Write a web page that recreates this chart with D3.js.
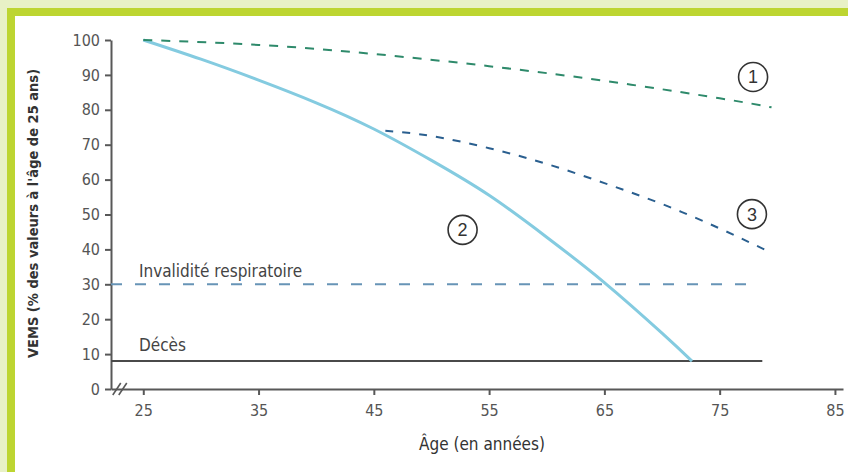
<!DOCTYPE html>
<html>
<head>
<meta charset="utf-8">
<script src="https://cdn.jsdelivr.net/npm/d3@7"></script>
<style>
  html, body { margin: 0; padding: 0; background: #e8f1c6; }
  svg { display: block; }
  text { font-family: "Liberation Sans Narrow", "DejaVu Sans Condensed", "Liberation Sans", sans-serif; }
</style>
</head>
<body>
<svg id="chart" width="848" height="472"></svg>
<script>
// Courbe 1 : non-fumeur
const ages1 = [25, 35, 45, 55, 65, 75, 79.5];
const vems1 = [100, 98.6, 96, 92.5, 88.3, 83.3, 80.7];
// Courbe 2 : fumeur sensible
const ages2 = [25, 30, 35, 40, 45, 50, 55, 60, 65, 70, 72.6];
const vems2 = [100, 94.5, 88.5, 82, 74.5, 65.5, 55.5, 43.5, 30.5, 16, 8];
// Courbe 3 : arrêt du tabac à 46 ans
const ages3 = [46, 50, 55, 60, 65, 70, 75, 79.5];
const vems3 = [74, 72.5, 69, 64.5, 59, 53, 46, 39];

const xTicks = [25, 35, 45, 55, 65, 75, 85];
const yTicks = [0, 10, 20, 30, 40, 50, 60, 70, 80, 90, 100];

// Seuils horizontaux
const seuils = [
  { nom: "Invalidité respiratoire", vems: 30, fin: 78.3 },
  { nom: "Décès", vems: 8, fin: 78.7 }
];
// Repères numérotés
const reperes = [
  { num: "1", age: 77.9, vems: 89.4 },
  { num: "2", age: 52.7, vems: 45.6 },
  { num: "3", age: 77.8, vems: 50.1 }
];

const svg = d3.select("#chart");

// Cadre
svg.append("rect").attr("x", 0).attr("y", 0).attr("width", 848).attr("height", 472).attr("fill", "#e8f1c6");
svg.append("rect").attr("x", 7).attr("y", 8).attr("width", 860).attr("height", 480).attr("fill", "#bdd531");
svg.append("rect").attr("x", 15).attr("y", 16).attr("width", 860).attr("height", 480).attr("fill", "#fff");

const margin = { left: 111, top: 40 };
const x = d3.scaleLinear().domain([22.2, 85.7]).range([margin.left, 843]);
const y = d3.scaleLinear().domain([0, 100]).range([389, margin.top]);

const axisColor = "#585858";

// Axe X
const gx = svg.append("g")
  .attr("transform", `translate(0,${y(0)})`)
  .call(d3.axisBottom(x).tickValues(xTicks).tickSizeInner(6).tickSizeOuter(0).tickPadding(10));
gx.select(".domain").attr("stroke", axisColor).attr("stroke-width", 2);
gx.selectAll(".tick line").attr("stroke", axisColor).attr("stroke-width", 2);
gx.selectAll(".tick text").attr("fill", "#555").style("font-size", "16px");

// Axe Y
const gy = svg.append("g")
  .attr("transform", `translate(${margin.left},0)`)
  .call(d3.axisLeft(y).tickValues(yTicks).tickSizeInner(6).tickSizeOuter(0).tickPadding(5));
gy.select(".domain").attr("stroke", axisColor).attr("stroke-width", 2);
gy.selectAll(".tick line").attr("stroke", axisColor).attr("stroke-width", 2);
gy.selectAll(".tick text").attr("fill", "#555").style("font-size", "16px");

// Coupure de l'axe
const bx = x(22.7);
[0, 6].forEach(d => {
  svg.append("line")
    .attr("x1", bx + d - 4).attr("y1", y(0) + 6)
    .attr("x2", bx + d + 4).attr("y2", y(0) - 6)
    .attr("stroke", axisColor).attr("stroke-width", 1.6);
});

// Seuils
svg.append("line")
  .attr("x1", x(22.2)).attr("x2", x(seuils[0].fin))
  .attr("y1", y(seuils[0].vems)).attr("y2", y(seuils[0].vems))
  .attr("stroke", "#6794b6").attr("stroke-width", 2).attr("stroke-dasharray", "11,13");
svg.append("line")
  .attr("x1", x(22.2)).attr("x2", x(seuils[1].fin))
  .attr("y1", y(seuils[1].vems)).attr("y2", y(seuils[1].vems))
  .attr("stroke", "#4a4a4a").attr("stroke-width", 2);

seuils.forEach(s => {
  svg.append("text")
    .attr("x", 139).attr("y", y(s.vems) - (s.vems === 30 ? 7 : 10))
    .attr("fill", "#444").style("font-size", "17px")
    .text(s.nom);
});

// Courbes
const line = d3.line().x(d => x(d[0])).y(d => y(d[1])).curve(d3.curveNatural);

svg.append("path")
  .datum(d3.zip(ages2, vems2))
  .attr("fill", "none").attr("stroke", "#84cbe0").attr("stroke-width", 3)
  .attr("d", line);

svg.append("path")
  .datum(d3.zip(ages1, vems1))
  .attr("fill", "none").attr("stroke", "#2e8a6b").attr("stroke-width", 2)
  .attr("stroke-dasharray", "9,9")
  .attr("d", line);

svg.append("path")
  .datum(d3.zip(ages3, vems3))
  .attr("fill", "none").attr("stroke", "#2a5f8f").attr("stroke-width", 2)
  .attr("stroke-dasharray", "8,9")
  .attr("d", line);

// Repères
const rep = svg.append("g").selectAll("g").data(reperes).join("g")
  .attr("transform", d => `translate(${x(d.age)},${y(d.vems)})`);
rep.append("circle").attr("r", 14.5).attr("fill", "#fff").attr("stroke", "#333").attr("stroke-width", 1.6);
rep.append("text")
  .attr("text-anchor", "middle").attr("dy", "0.36em")
  .style("font-family", "'Liberation Sans', sans-serif").style("font-size", "18px").attr("fill", "#333")
  .text(d => d.num);

// Titres des axes
svg.append("text")
  .attr("transform", `translate(38,${(55 + 372) / 2}) rotate(-90)`)
  .attr("text-anchor", "middle")
  .attr("fill", "#333").style("font-size", "14.5px").style("font-weight", "bold")
  .text("VEMS (% des valeurs à l'âge de 25 ans)");

svg.append("text")
  .attr("x", 482).attr("y", 450)
  .attr("text-anchor", "middle")
  .attr("fill", "#333").style("font-size", "17px")
  .text("Âge (en années)");
</script>
</body>
</html>
